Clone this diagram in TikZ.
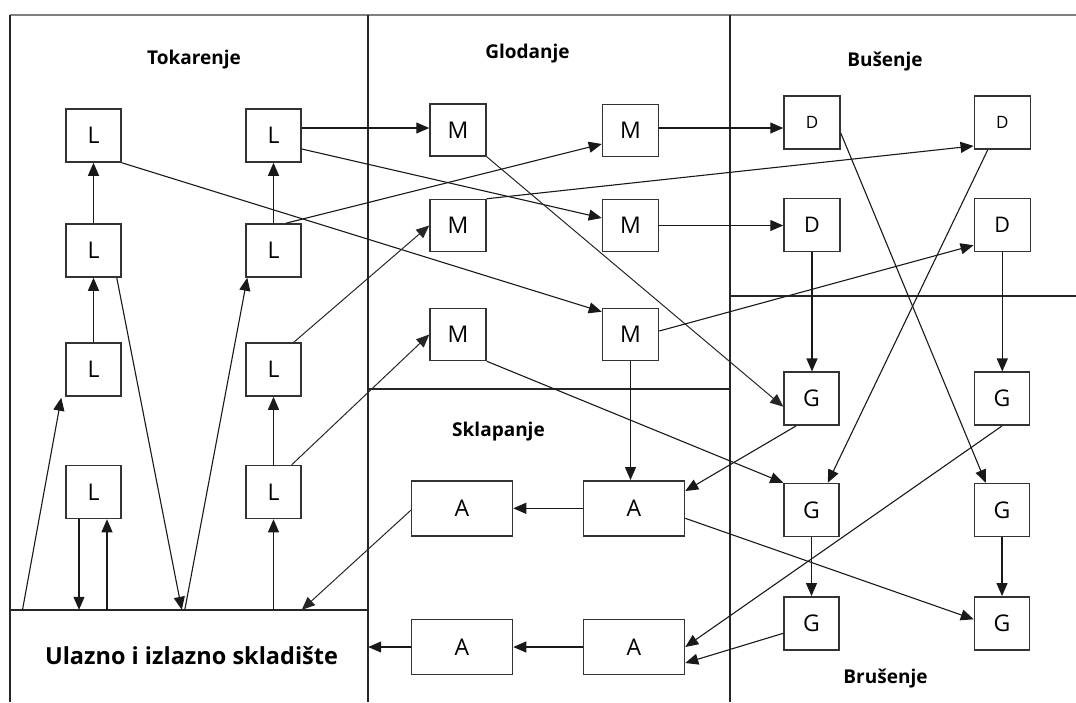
\documentclass[tikz,border=0pt]{standalone}
\usepackage{fontspec}
\setmainfont{Open Sans}
\usetikzlibrary{arrows.meta,calc}
\begin{document}
\begin{tikzpicture}[x=1pt,y=-1pt,
  box/.style={draw=black!80, line width=1.5pt, inner sep=0pt, minimum width=55pt, minimum height=53pt, font=\fontsize{23}{25}\selectfont},
  abox/.style={box, minimum width=101pt, minimum height=55pt},
  small/.style={font=\fontsize{17}{19}\selectfont},
  tip/.style={-{Triangle[length=13pt,width=11pt]}},
  arr/.style={tip, line width=1.1pt, draw=black!90},
  ln/.style={tip, line width=1pt, draw=black!85},
  frame/.style={line width=1.4pt, draw=black!85},
  topframe/.style={line width=2.2pt, draw=black!50},
  lab/.style={font=\fontsize{19}{22}\bfseries\selectfont}]
\useasboundingbox (0,0) rectangle (1076,702);
% frame
\draw[topframe] (10,15) -- (1076,15);
\draw[frame] (10,15) -- (10,702);
\draw[frame] (368,15) -- (368,702);
\draw[frame] (730,15) -- (730,702);
\draw[frame] (368,389) -- (730,389);
\draw[frame] (730,296) -- (1076,296);
% storage
\node[minimum width=358pt, minimum height=92pt, inner sep=0pt, font=\fontsize{23.5}{26}\bfseries\selectfont] (S) at (189,656) {\hspace*{5pt}Ulazno i izlazno skladište};
\draw[frame] (S.north west) -- (S.north east);
% labels
\node[lab] (t1) at (194,60) {Tokarenje};
\node[lab] (t2) at (527.5,54) {Glodanje};
\node[lab] (t3) at (885,62) {Bušenje};
\node[lab] (t4) at (498.5,432) {Sklapanje};
\node[lab] (t5) at (885.5,678) {Brušenje};
% L boxes
\node[box] (L11) at (93.5,135.5) {L};
\node[box] (L12) at (93.5,250.5) {L};
\node[box] (L13) at (93.5,369.5) {L};
\node[box] (L14) at (93.5,492) {L};
\node[box] (L21) at (273.5,135.5) {L};
\node[box] (L22) at (273.5,250.5) {L};
\node[box] (L23) at (273.5,369.5) {L};
\node[box] (L24) at (273.5,492) {L};
% M boxes
\node[box, minimum width=56pt, minimum height=52pt] (M11) at (458,130) {M};
\node[box, minimum width=56pt, minimum height=52pt] (M12) at (630.5,130.5) {M};
\node[box, minimum width=56pt, minimum height=52pt] (M21) at (458,225.5) {M};
\node[box, minimum width=56pt, minimum height=52pt] (M22) at (630.5,225.5) {M};
\node[box, minimum width=56pt, minimum height=52pt] (M31) at (458,334.5) {M};
\node[box, minimum width=56pt, minimum height=52pt] (M32) at (630.5,334.5) {M};
% D boxes
\node[box, small, minimum width=56pt] (D11) at (812,122.7) {D};
\node[box, small, minimum width=56pt] (D12) at (1002.3,122.7) {D};
\node[box, minimum width=56pt, font=\fontsize{21.5}{23}\selectfont] (D21) at (812,225) {D};
\node[box, minimum width=56pt, font=\fontsize{21.5}{23}\selectfont] (D22) at (1002.3,225) {D};
% G boxes
\node[box] (G11) at (811.5,398.7) {G};
\node[box] (G12) at (1002,398.7) {G};
\node[box] (G21) at (811.5,510) {G};
\node[box] (G22) at (1002,510) {G};
\node[box] (G31) at (811.5,623.3) {G};
\node[box] (G32) at (1002,623.3) {G};
% A boxes
\node[abox] (A11) at (462,508.3) {A};
\node[abox] (A12) at (634,508.3) {A};
\node[abox] (A21) at (462,647) {A};
\node[abox] (A22) at (634,647) {A};
% Tokarenje connectors
\draw[arr] ([xshift=-14.5pt]L14.south) -- ([xshift=-14.5pt]L14.south |- S.north);
\draw[arr] ([xshift=13.5pt]L14.south |- S.north) -- ([xshift=13.5pt]L14.south);
\draw[arr] ([xshift=12.7pt]S.north west) -- ([xshift=-4pt,yshift=-1pt]L13.south west);
\draw[arr] (L13.north) -- (L12.south);
\draw[arr] (L12.north) -- (L11.south);
\draw[arr] ([xshift=-5pt]L12.south east) -- ([xshift=172pt]S.north west);
\draw[arr] ([xshift=175pt]S.north west) -- ([xshift=2pt]L22.south west);
\draw[arr] (L22.north) -- (L21.south);
\draw[arr] (L24.north) -- (L23.south);
\draw[arr] (L24.south |- S.north) -- (L24.south);
\draw[arr] (L11.south east) -- ([yshift=-4pt]M32.north west);
\draw[arr] ([yshift=7.5pt]L21.east) -- ([yshift=7.5pt]L21.east -| M11.west);
\draw[arr] ([yshift=-13.5pt]L21.east) -- ([yshift=7.5pt]M22.west);
\draw[arr] ([xshift=-16pt]L22.north east) -- ([yshift=-13.5pt]M12.west);
\draw[ln] ([xshift=-8pt]L23.north east) -- (M21.west);
\draw[ln] ([xshift=-10pt]L24.north east) -- (M31.west);
\draw[ln] ([yshift=-2pt]A11.west) -- ([xshift=292pt]S.north west);
% Glodanje connectors
\draw[ln] (M11.south east) -- ([yshift=-8pt]G11.west);
\draw[arr] ([yshift=2.5pt]M12.east) -- ([yshift=2.5pt]M12.east -| D11.west);
\draw[arr] (M21.north east) -- ([yshift=4pt]D12.south west);
\draw[arr] (M22.east) -- (M22.east -| D21.west);
\draw[arr] ([yshift=3.5pt]M32.east) -- ([yshift=7pt]D22.south west);
\draw[arr] (M32.south) -- (M32.south |- A12.north);
\draw[arr] (M31.south east) -- (G21.north west);
% Busenje connectors
\draw[arr] ([yshift=-10.3pt]D11.east) -- ([xshift=12pt]G22.north west);
\draw[arr] ([xshift=-14.6pt]D12.south) -- ([xshift=-12pt]G21.north east);
\draw[arr] (D21.south) -- (D21.south |- G11.north);
\draw[arr] (D22.south) -- (D22.south |- G12.north);
% Brusenje connectors
\draw[arr] ([xshift=-15.5pt]G11.south) -- ([yshift=-11pt]A12.north east);
\draw[arr] (G12.south) -- (A22.east);
\draw[arr] ([yshift=-10pt]G31.west) -- ([yshift=-16pt]A22.east);
\draw[arr] (G21.south) -- (G31.north);
\draw[arr] (G22.south) -- (G32.north);
\draw[arr] ([yshift=-10pt]A12.east) -- ([yshift=4pt]G32.west);
% Sklapanje connectors
\draw[arr] (A12.west |- A11.east) -- (A11.east);
\draw[arr] (A22.west) -- (A21.east);
\draw[arr] (A21.west) -- (A21.west -| S.east);
\end{tikzpicture}
\end{document}
